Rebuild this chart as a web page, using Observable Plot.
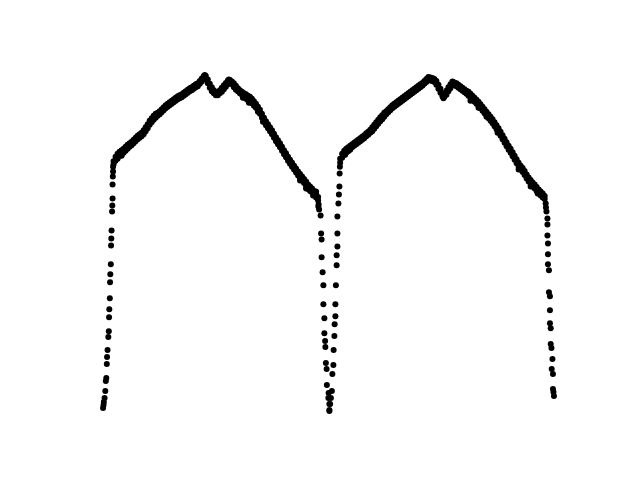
<!DOCTYPE html>
<html>
<head>
<meta charset="utf-8">
<script src="https://cdn.jsdelivr.net/npm/d3@7"></script>
<script src="https://cdn.jsdelivr.net/npm/@observablehq/plot@0.6"></script>
<style>
  html, body { margin: 0; padding: 0; background: #ffffff; }
  #chart svg { display: block; }
</style>
</head>
<body>
<div id="chart"></div>
<script>
// Time in minutes, relative flux in per mille.
// Cycle 1: rising branch [t, f]
const rise1 = [[14,6],[16,12],[17,18],[20,26],[23,40],[25,60],[27,66],[29,94],[30,108],[32,122],[35,148],[37,160],[38,188],[39,204],[41,226],[42,258],[43,274],[45,294],[46,332],[47,346],[48,362],[50,400],[51,412],[52,426],[52,454],[53,470],[54,480],[54,490]];
// Cycle 1: maximum (two observations per time) [t, fa, fb]
const top1 = [[56,501,495],[64,510,502],[72,516,508],[80,520,512],[88,523,514],[96,526,518],[104,530,522],[112,534,526],[120,537,530],[128,540,533],[136,544,537],[144,548,541],[152,552,545],[160,555,548],[168,558,551],[176,563,555],[184,569,561],[192,575,567],[200,582,574],[208,587,579],[216,592,584],[224,596,588],[232,598,592],[240,601,595],[248,605,599],[256,609,603],[264,613,607],[272,616,610],[280,619,613],[288,622,616],[296,625,619],[304,628,622],[312,631,625],[320,633,627],[328,635,629],[336,638,632],[344,641,635],[352,644,638],[360,647,641],[368,649,643],[376,652,646],[384,655,649],[392,657,651],[400,662,656],[408,667,661],[416,672,666],[420,674,670],[424,672,666],[432,665,657],[440,656,648],[448,649,641],[456,643,637],[464,639,633],[472,639,633],[480,643,637],[488,648,640],[496,653,645],[504,658,650],[512,663,655],[516,665,659],[520,664,658],[528,661,655],[536,657,649],[544,652,644],[552,647,641],[560,643,637],[568,640,634],[576,637,631],[584,635,626],[592,632,623],[600,630,621],[608,626,617],[616,621,612],[624,616,608],[632,610,602],[640,604,596],[648,596,588],[656,588,580],[664,581,573],[672,575,567],[680,569,561],[688,563,555],[696,556,548],[704,549,541],[712,543,535],[720,537,529],[728,530,522],[736,523,515],[744,517,509],[752,510,502],[760,504,496],[768,498,490],[776,492,484],[784,486,478],[792,480,472],[800,475,467],[808,470,462],[816,465,457],[824,460,451],[832,454,445],[840,450,441],[848,446,438],[856,441,433],[864,436,428],[872,429,422]];
// Cycle 1: scattered observations off the main band [t, f]
const scatter1 = [[72,506],[88,512],[572,628],[596,618],[632,600],[652,580],[800,462],[824,446],[852,432],[864,440]];
// Cycle 1: falling branch [t, f]
const fall1 = [[873,410],[874,414],[876,404],[882,392],[884,356],[886,344],[886,308],[890,278],[893,252],[893,214],[897,186],[897,156],[900,140],[901,128],[903,96],[906,84],[907,52],[914,36],[913,26],[917,14],[917,2]];
// Cycle 2: rising branch [t, f]
const rise2 = [[917,0],[920,14],[923,26],[927,40],[929,74],[933,92],[934,122],[937,150],[938,174],[941,190],[941,214],[943,252],[946,292],[946,312],[949,330],[949,356],[949,390],[953,416],[955,434],[957,450],[958,476],[959,490]];
// Cycle 2: maximum [t, fa, fb]
const top2 = [[960,506,498],[968,516,508],[976,522,514],[984,526,518],[992,529,521],[1000,532,524],[1008,535,529],[1016,538,532],[1024,541,535],[1032,544,538],[1040,547,541],[1048,550,544],[1056,553,547],[1064,557,551],[1072,560,554],[1080,564,558],[1088,569,561],[1096,574,566],[1104,579,571],[1112,584,576],[1120,589,581],[1128,593,585],[1136,598,590],[1144,601,595],[1152,605,599],[1160,609,603],[1168,613,607],[1176,616,610],[1184,619,613],[1192,622,616],[1200,625,619],[1208,628,622],[1216,631,625],[1224,634,628],[1232,637,631],[1240,640,634],[1248,643,637],[1256,646,640],[1264,649,643],[1272,652,646],[1280,655,649],[1288,658,652],[1296,662,656],[1304,666,660],[1312,670,664],[1320,669,663],[1328,668,662],[1336,666,660],[1344,662,654],[1352,654,646],[1360,646,638],[1368,637,631],[1372,633,627],[1376,636,630],[1384,642,634],[1392,649,641],[1400,655,647],[1408,661,655],[1416,659,653],[1424,657,651],[1432,654,648],[1440,651,645],[1448,648,642],[1456,645,639],[1464,642,636],[1472,640,632],[1480,636,628],[1488,632,624],[1496,628,620],[1504,624,616],[1512,620,612],[1520,615,607],[1528,610,602],[1536,605,597],[1544,600,592],[1552,595,587],[1560,590,582],[1568,585,577],[1576,579,571],[1584,573,565],[1592,567,559],[1600,560,552],[1608,553,545],[1616,546,538],[1624,539,531],[1632,532,524],[1640,526,518],[1648,519,511],[1656,512,504],[1664,505,497],[1672,498,490],[1680,492,484],[1688,487,479],[1696,481,473],[1704,474,466],[1712,468,460],[1720,463,455],[1728,458,450],[1736,454,446],[1744,449,441],[1752,444,436],[1760,440,432],[1768,436,428],[1776,431,425]];
// Cycle 2: scattered observations off the main band [t, f]
const scatter2 = [[980,514],[1480,622],[1512,608],[1544,590],[1588,558],[1672,484],[1720,450],[1748,436]];
// Cycle 2: falling branch [t, f]
const fall2 = [[1780,416],[1781,408],[1783,400],[1787,386],[1787,374],[1787,352],[1789,336],[1789,314],[1789,294],[1793,282],[1793,238],[1797,230],[1797,202],[1797,176],[1800,166],[1800,134],[1803,126],[1807,104],[1804,84],[1809,74],[1809,44],[1811,38],[1813,30]];

const points = [];
for (const seg of [rise1, scatter1, fall1, rise2, scatter2, fall2]) for (const [t, f] of seg) points.push({t, f});
for (const seg of [top1, top2]) for (const [t, fa, fb] of seg) { points.push({t, f: fa}); points.push({t, f: fb}); }

function padded(ext) { const m = (ext[1] - ext[0]) * 0.05; return [ext[0] - m, ext[1] + m]; }
const xDom = padded(d3.extent(points, d => d.t));
const yDom = padded(d3.extent(points, d => d.f));

const chart = Plot.plot({
  width: 640,
  height: 480,
  marginLeft: 80,
  marginRight: 64,
  marginTop: 57.6,
  marginBottom: 52.8,
  style: { background: "#ffffff" },
  x: { domain: xDom, axis: null },
  y: { domain: yDom, axis: null },
  marks: [
    Plot.dot(points, { x: "t", y: "f", r: 3.0, fill: "#000000", stroke: null })
  ]
});
document.getElementById("chart").appendChild(chart);
</script>
</body>
</html>
